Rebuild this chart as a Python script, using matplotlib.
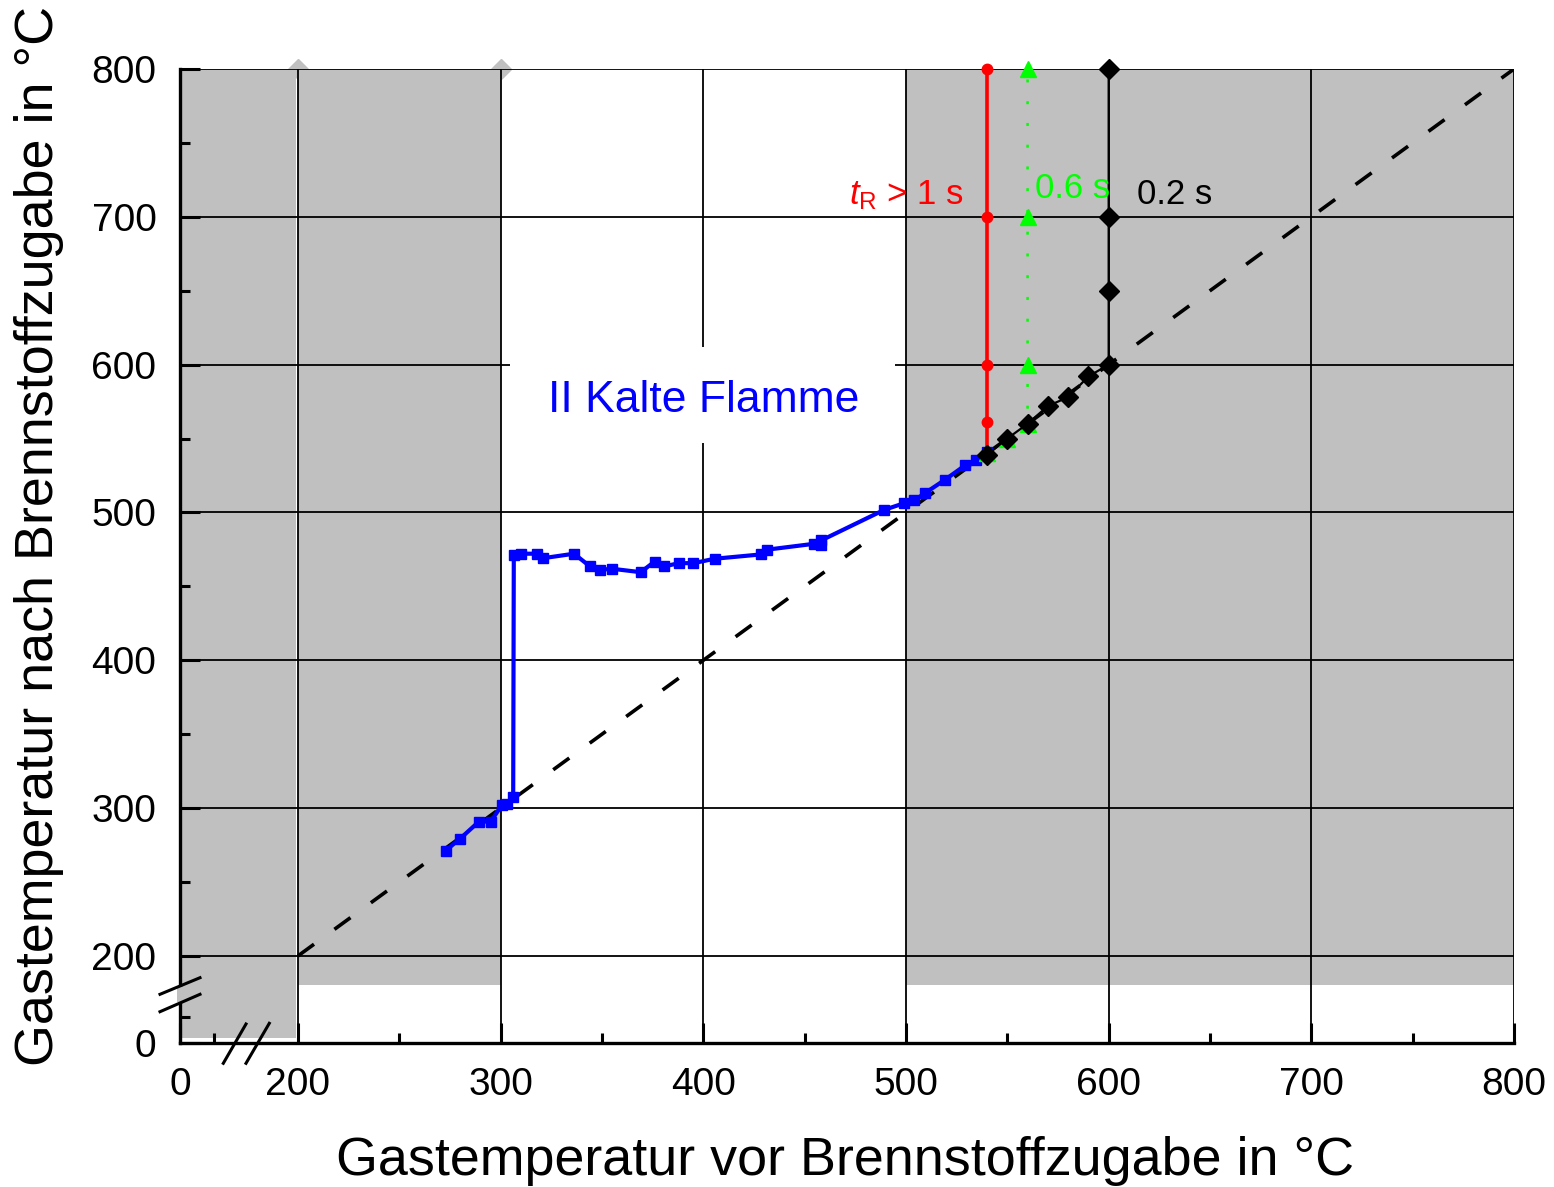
import numpy as np
import matplotlib
matplotlib.use('Agg')
import matplotlib.pyplot as plt
from matplotlib.patches import Rectangle

plt.rcParams['font.family'] = 'Liberation Sans'
plt.rcParams['mathtext.fontset'] = 'custom'
plt.rcParams['mathtext.rm'] = 'Liberation Sans'
plt.rcParams['mathtext.it'] = 'Liberation Sans:italic'

# Messreihe Kalte Flamme (blau)
blau_x = [272.9, 279.9, 289.3, 295.1, 300.8, 303.0, 306.2, 306.5, 309.9, 318.1,
          321.1, 336.2, 344.1, 349.0, 355.1, 369.1, 376.0, 380.6, 388.0, 395.1,
          405.6, 428.3, 431.3, 454.6, 457.9, 458.2, 489.3, 499.2, 504.1, 509.4,
          519.2, 529.1, 534.5, 540.0]
blau_y = [271.3, 279.2, 290.9, 290.9, 302.4, 302.9, 307.8, 471.4, 472.1, 472.1,
          469.1, 472.1, 463.5, 461.2, 461.9, 459.6, 466.8, 463.5, 465.7, 465.7,
          468.7, 471.6, 474.8, 478.8, 477.7, 481.1, 501.8, 506.3, 508.1, 513.1,
          522.1, 531.8, 535.7, 540.8]

# Verweilzeiten
rot_x = [540, 540, 540, 540, 540]
rot_y = [540, 561, 600, 700, 800]
gruen_x = [540, 550, 560, 560, 560, 560]
gruen_y = [540, 550, 560, 600, 700, 800]
schwarz_x = [540, 550, 560, 570, 580, 590, 600, 600, 600, 600]
schwarz_y = [539, 550, 560, 572, 578, 592, 600, 650, 700, 800]
grau_x = [200, 300]
grau_y = [800, 800]

# Winkelhalbierende
diag = [200, 800]

# graue Bereiche: (x von, x bis, y von)
bereiche = [(0, 196.6, 11), (200, 300, 133), (500, 800, 133)]

xticks = [0, 200, 300, 400, 500, 600, 700, 800]
yticks = [0, 200, 300, 400, 500, 600, 700, 800]
xminor = [58, 250, 350, 450, 550, 650, 750]
yminor = [60, 250, 350, 450, 550, 650, 750]

# gestauchter Bereich unter 200
sx = 0.291
sy = 0.2945

def fx(v):
    v = np.asarray(v, dtype=float)
    return np.where(v >= 200, v, 200 - (200 - v) * sx)

def fx_inv(d):
    d = np.asarray(d, dtype=float)
    return np.where(d >= 200, d, 200 - (200 - d) / sx)

def fy(v):
    v = np.asarray(v, dtype=float)
    return np.where(v >= 200, v, 200 - (200 - v) * sy)

def fy_inv(d):
    d = np.asarray(d, dtype=float)
    return np.where(d >= 200, d, 200 - (200 - d) / sy)


fig = plt.figure(figsize=(15.54, 11.87), dpi=100)
ax = fig.add_axes([0.11583, 0.12131, 0.85843, 0.82056])
ax.set_xscale('function', functions=(fx, fx_inv))
ax.set_yscale('function', functions=(fy, fy_inv))
ax.set_xlim(0, 800)
ax.set_ylim(0, 800)

grau = '#c0c0c0'
for x0, x1, y0 in bereiche:
    ax.add_patch(Rectangle((x0, y0), x1 - x0, 800 - y0, fc=grau, ec='none', zorder=1))

ax.grid(True, which='major', color='k', lw=1.3)

# weisser Kasten hinter dem Text
ax.add_patch(Rectangle((304.4, 546.7), 190.0, 64.9, fc='white', ec='none', zorder=1.8))
ax.text(400, 575.5, 'II Kalte Flamme', color='#0000ff', fontsize=32,
        ha='center', va='center', zorder=4)

ax.plot(diag, diag, color='k', lw=2.6, dashes=(5.5, 7.0), zorder=2)
ax.plot(grau_x, grau_y, ls='none', marker='D', ms=10, color=grau, clip_on=False, zorder=1.4)

ax.plot(blau_x, blau_y, color='#0000ff', lw=3, marker='s', ms=7.5, zorder=3)
ax.plot(rot_x, rot_y, color='#ff0000', lw=2.6, marker='o', ms=7.5, clip_on=False, zorder=3.1)
ax.plot(gruen_x, gruen_y, color='#00ff00', lw=1.8, dashes=(1.2, 7.5), marker='^',
        ms=12, clip_on=False, zorder=3.2)
ax.plot(schwarz_x, schwarz_y, color='k', lw=1.6, marker='D', ms=10,
        clip_on=False, zorder=3.3)

ax.text(528.6, 708.8, r'$t_\mathrm{R}$ > 1 s', color='#ff0000', fontsize=25,
        ha='right', va='baseline', zorder=4)
ax.text(563.6, 712.9, '0.6 s', color='#00ff00', fontsize=25,
        ha='left', va='baseline', zorder=4)
ax.text(614, 708.8, '0.2 s', color='k', fontsize=25,
        ha='left', va='baseline', zorder=4)

ax.set_xticks(xticks)
ax.set_xticklabels([str(t) for t in xticks])
ax.set_yticks(yticks)
ax.set_yticklabels([str(t) for t in yticks])
ax.set_xticks(xminor, minor=True)
ax.set_yticks(yminor, minor=True)
ax.tick_params(which='both', direction='in', width=2.2, labelsize=28, pad=17)
ax.tick_params(which='major', length=14.4)
ax.tick_params(which='minor', length=7.2)

for s in ['top', 'right']:
    ax.spines[s].set_visible(False)
for s in ['left', 'bottom']:
    ax.spines[s].set_linewidth(2.4)

# Achsenbruch
kw = dict(transform=ax.transAxes, color='k', lw=2.2, clip_on=False, zorder=5)
ax.plot([0.03246, 0.04948], [-0.02084, 0.01951], **kw)
ax.plot([0.04948, 0.06694], [-0.02084, 0.02023], **kw)
ax.plot([-0.01499, 0.01499], [0.05, 0.06704], **kw)
ax.plot([-0.01499, 0.01499], [0.03214, 0.05], **kw)
ax.add_patch(Rectangle((-0.0025, 0.0421), 0.005, 0.0154, transform=ax.transAxes,
                       fc=grau, ec='none', clip_on=False, zorder=4.5))

ax.set_xlabel('Gastemperatur vor Brennstoffzugabe in °C', fontsize=38.8)
ax.set_ylabel('Gastemperatur nach Brennstoffzugabe in °C', fontsize=38.8)
ax.xaxis.set_label_coords(0.4985, -0.0955)
ax.yaxis.set_label_coords(-0.0868, 0.5205)

fig.savefig('out.png', dpi=100)
